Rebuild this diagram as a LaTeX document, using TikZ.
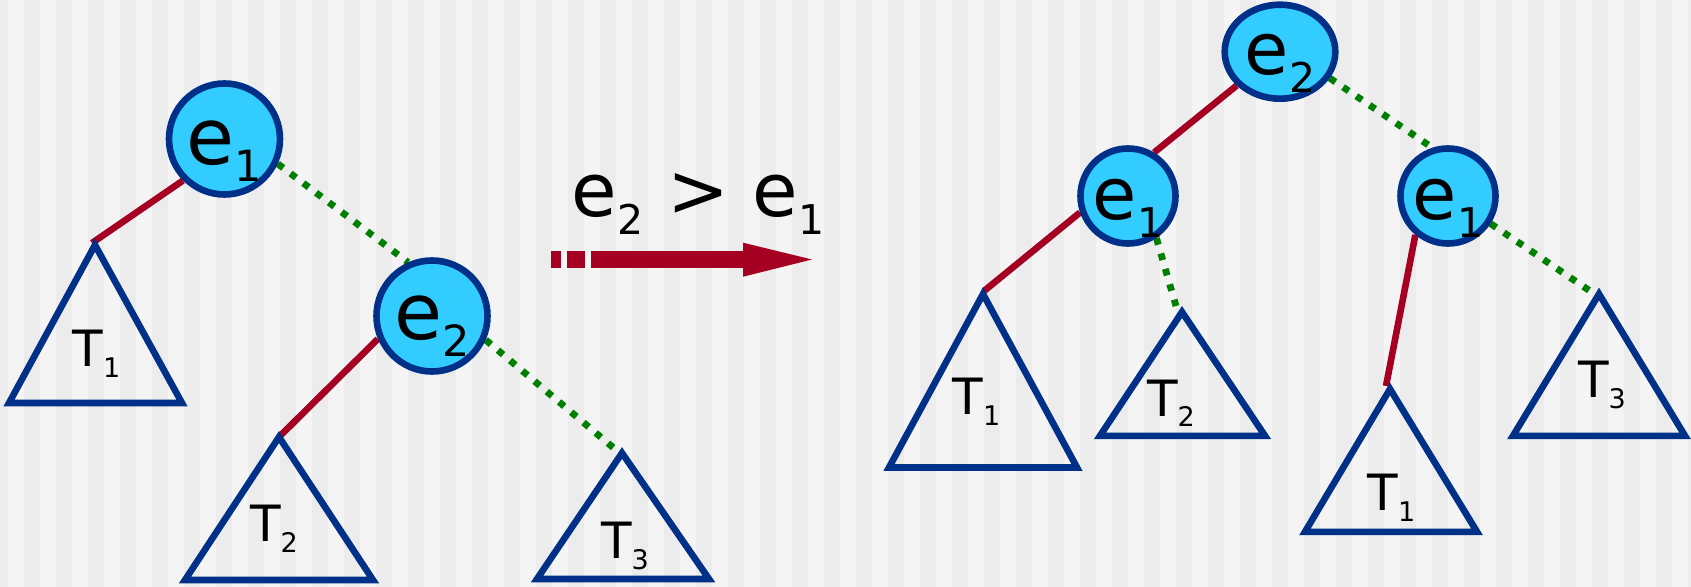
\documentclass[tikz,border=0pt]{standalone}
\usepackage{fontspec}
\setmainfont{DejaVu Sans}
\usetikzlibrary{shapes.geometric}
\definecolor{navy}{HTML}{003087}
\definecolor{cyanfill}{HTML}{33CCFF}
\definecolor{redline}{HTML}{A50021}
\definecolor{greenline}{HTML}{008000}
\definecolor{bglight}{HTML}{F4F4F4}
\definecolor{bgdark}{HTML}{ECECEC}
\pgfdeclarelayer{bgl}
\pgfdeclarelayer{edges}
\pgfsetlayers{bgl,edges,main}
\newcommand{\esub}[4]{{\fontsize{#1}{#1}\selectfont e\raisebox{-#3}{\fontsize{#2}{#2}\selectfont #4}}}
\newcommand{\tsub}[1]{{\fontsize{25pt}{25pt}\selectfont T\raisebox{-5.5pt}{\fontsize{13.5pt}{13.5pt}\selectfont #1}}}
\begin{document}
\begin{tikzpicture}[x=0.5pt,y=-0.5pt,
  bignode/.style={circle, draw=navy, fill=cyanfill, line width=3.3pt, inner sep=0pt, minimum size=55.5pt},
  smallnode/.style={circle, draw=navy, fill=cyanfill, line width=3.3pt, inner sep=0pt, minimum size=47.5pt},
  topnode/.style={ellipse, draw=navy, fill=cyanfill, line width=3.3pt, inner sep=0pt, minimum width=55.3pt, minimum height=47pt},
  redge/.style={draw=redline, line width=3.3pt},
  gedge/.style={draw=greenline, line width=3.4pt, dash pattern=on 3.4pt off 4.6pt},
  tri/.style={draw=navy, line width=3.3pt},
  lbl/.style={anchor=base, inner sep=0pt, text=black}]
\useasboundingbox (0,0) rectangle (1691,587);
\begin{pgfonlayer}{bgl}
\begin{scope}
\clip (0,0) rectangle (1691,587);
\fill[bglight] (0,0) rectangle (1691,587);
\foreach \k in {0,...,53} \fill[bgdark] ({32*\k-8},0) rectangle ({32*\k+8},587);
\end{scope}
\end{pgfonlayer}

% ---------- left tree ----------
\node[bignode] (e1L) at (224.5,139) {};
\node[bignode] (e2L) at (432,316) {};
\node[lbl] (e1Ltxt) at (224.5,165) {\esub{39pt}{21.5pt}{8.3pt}{1}};
\node[lbl] (e2Ltxt) at (432,340) {\esub{39pt}{21.5pt}{8.3pt}{2}};

\coordinate (T1La) at (95,245); \coordinate (T1Lb) at (9,403); \coordinate (T1Lc) at (182,403);
\coordinate (T2La) at (279,437); \coordinate (T2Lb) at (185,580); \coordinate (T2Lc) at (373,580);
\coordinate (T3La) at (622,453); \coordinate (T3Lb) at (537,579); \coordinate (T3Lc) at (709,579);
\draw[tri] (T1La) -- (T1Lb) -- (T1Lc) -- cycle;
\draw[tri] (T2La) -- (T2Lb) -- (T2Lc) -- cycle;
\draw[tri] (T3La) -- (T3Lb) -- (T3Lc) -- cycle;
\node[lbl] (T1Ltxt) at (96.5,366.7) {\tsub{1}};
\node[lbl] (T2Ltxt) at (274,541.7) {\tsub{2}};
\node[lbl] (T3Ltxt) at (625,558) {\tsub{3}};

\coordinate (T1Lend) at (92,243);
\coordinate (T2Lend) at (280,436);
\coordinate (T3Lend) at (616,450);
\begin{pgfonlayer}{edges}
\draw[redge] (e1L.225) -- (T1Lend);
\draw[gedge] (e1L.-25) -- (e2L.114);
\draw[redge] (e2L.203.6) -- (T2Lend);
\draw[gedge] (e2L.-24) -- (T3Lend);
\end{pgfonlayer}

% ---------- arrow ----------
\node[lbl] (cmp) at (698,216.7) {\fontsize{37pt}{37pt}\selectfont\esub{37pt}{20.5pt}{9pt}{2} > \esub{37pt}{20.5pt}{9pt}{1}};
\fill[redline] (551,250.7) rectangle (561,268.3);
\fill[redline] (567,250.7) rectangle (585,268.3);
\fill[redline] (591,250.7) rectangle (744,268.3);
\fill[redline] (743,242.7) -- (812,259.5) -- (743,276.7) -- cycle;

% ---------- right tree ----------
\node[topnode] (e2R) at (1280,51.7) {};
\node[smallnode] (e1a) at (1128,196) {};
\node[smallnode] (e1b) at (1448,196) {};
\node[lbl] (e2Rtxt) at (1280,75) {\esub{36pt}{20.5pt}{9pt}{2}};
\node[lbl] (e1atxt) at (1128,220) {\esub{36pt}{20.5pt}{9pt}{1}};
\node[lbl] (e1btxt) at (1448,220) {\esub{36pt}{20.5pt}{9pt}{1}};

\coordinate (T1aa) at (983,294); \coordinate (T1ab) at (889,467.5); \coordinate (T1ac) at (1077,467.5);
\coordinate (T2Ra) at (1182,312); \coordinate (T2Rb) at (1100,435.8); \coordinate (T2Rc) at (1265,435.8);
\coordinate (T1ba) at (1390,389); \coordinate (T1bb) at (1305,531.8); \coordinate (T1bc) at (1477,531.8);
\coordinate (T3Ra) at (1599,294); \coordinate (T3Rb) at (1513,435.8); \coordinate (T3Rc) at (1685,435.8);
\draw[tri] (T1aa) -- (T1ab) -- (T1ac) -- cycle;
\draw[tri] (T2Ra) -- (T2Rb) -- (T2Rc) -- cycle;
\draw[tri] (T1ba) -- (T1bb) -- (T1bc) -- cycle;
\draw[tri] (T3Ra) -- (T3Rb) -- (T3Rc) -- cycle;
\node[lbl] (T1atxt) at (976.5,415) {\tsub{1}};
\node[lbl] (T2Rtxt) at (1171,416) {\tsub{2}};
\node[lbl] (T1btxt) at (1391.5,510) {\tsub{1}};
\node[lbl] (T3Rtxt) at (1602,398) {\tsub{3}};

\coordinate (T1aend) at (984,291);
\coordinate (T2Rend) at (1176,306);
\coordinate (T1bend) at (1386,386);
\coordinate (T3Rend) at (1590,291);
\begin{pgfonlayer}{edges}
\draw[redge] (e2R.218) -- (e1a.59);
\draw[redge] (e1a.199.5) -- (T1aend);
\draw[gedge] (e1a.-56) -- (T2Rend);
\draw[gedge] (e2R.-28) -- (e1b.108);
\draw[redge] (e1b.230) -- (T1bend);
\draw[gedge] (e1b.-33) -- (T3Rend);
\end{pgfonlayer}
\end{tikzpicture}
\end{document}
